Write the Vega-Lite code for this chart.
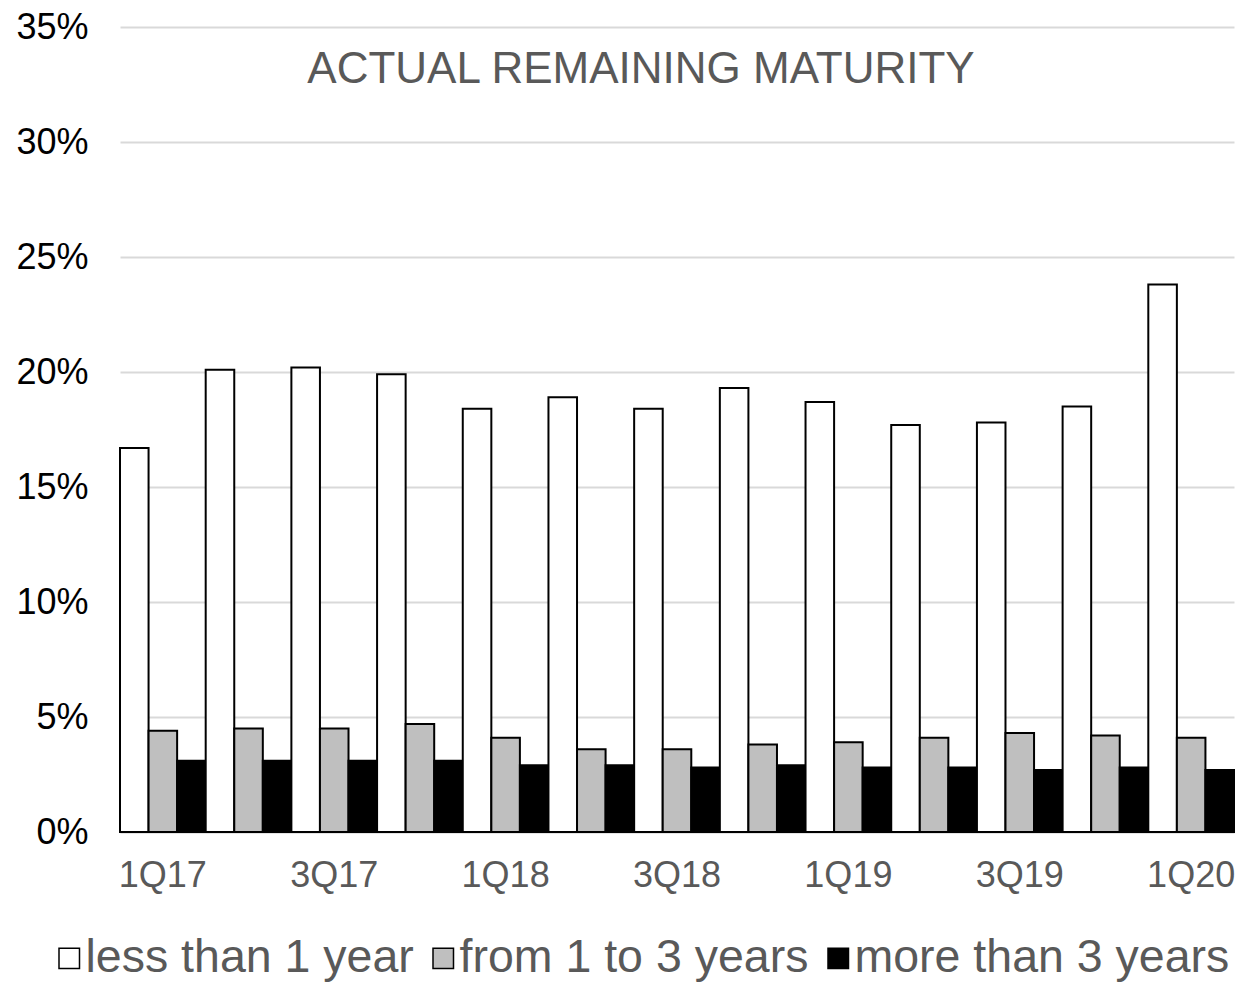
{
  "$schema": "https://vega.github.io/schema/vega-lite/v6.json",
  "autosize": "none",
  "width": 1114,
  "height": 805,
  "padding": {"left": 120, "top": 27, "right": 5, "bottom": 153},
  "background": "#FFFFFF",
  "title": {
    "text": "ACTUAL REMAINING MATURITY",
    "anchor": "middle",
    "frame": "group",
    "orient": "top",
    "baseline": "alphabetic",
    "offset": 0,
    "dx": -36,
    "dy": 118,
    "font": "Liberation Sans",
    "fontSize": 44,
    "fontWeight": "normal",
    "color": "#595959"
  },
  "data": {
    "values": [
      {"quarter": "1Q17", "maturity": "less than 1 year", "share": 16.7},
      {"quarter": "1Q17", "maturity": "from 1 to 3 years", "share": 4.4},
      {"quarter": "1Q17", "maturity": "more than 3 years", "share": 3.1},
      {"quarter": "2Q17", "maturity": "less than 1 year", "share": 20.1},
      {"quarter": "2Q17", "maturity": "from 1 to 3 years", "share": 4.5},
      {"quarter": "2Q17", "maturity": "more than 3 years", "share": 3.1},
      {"quarter": "3Q17", "maturity": "less than 1 year", "share": 20.2},
      {"quarter": "3Q17", "maturity": "from 1 to 3 years", "share": 4.5},
      {"quarter": "3Q17", "maturity": "more than 3 years", "share": 3.1},
      {"quarter": "4Q17", "maturity": "less than 1 year", "share": 19.9},
      {"quarter": "4Q17", "maturity": "from 1 to 3 years", "share": 4.7},
      {"quarter": "4Q17", "maturity": "more than 3 years", "share": 3.1},
      {"quarter": "1Q18", "maturity": "less than 1 year", "share": 18.4},
      {"quarter": "1Q18", "maturity": "from 1 to 3 years", "share": 4.1},
      {"quarter": "1Q18", "maturity": "more than 3 years", "share": 2.9},
      {"quarter": "2Q18", "maturity": "less than 1 year", "share": 18.9},
      {"quarter": "2Q18", "maturity": "from 1 to 3 years", "share": 3.6},
      {"quarter": "2Q18", "maturity": "more than 3 years", "share": 2.9},
      {"quarter": "3Q18", "maturity": "less than 1 year", "share": 18.4},
      {"quarter": "3Q18", "maturity": "from 1 to 3 years", "share": 3.6},
      {"quarter": "3Q18", "maturity": "more than 3 years", "share": 2.8},
      {"quarter": "4Q18", "maturity": "less than 1 year", "share": 19.3},
      {"quarter": "4Q18", "maturity": "from 1 to 3 years", "share": 3.8},
      {"quarter": "4Q18", "maturity": "more than 3 years", "share": 2.9},
      {"quarter": "1Q19", "maturity": "less than 1 year", "share": 18.7},
      {"quarter": "1Q19", "maturity": "from 1 to 3 years", "share": 3.9},
      {"quarter": "1Q19", "maturity": "more than 3 years", "share": 2.8},
      {"quarter": "2Q19", "maturity": "less than 1 year", "share": 17.7},
      {"quarter": "2Q19", "maturity": "from 1 to 3 years", "share": 4.1},
      {"quarter": "2Q19", "maturity": "more than 3 years", "share": 2.8},
      {"quarter": "3Q19", "maturity": "less than 1 year", "share": 17.8},
      {"quarter": "3Q19", "maturity": "from 1 to 3 years", "share": 4.3},
      {"quarter": "3Q19", "maturity": "more than 3 years", "share": 2.7},
      {"quarter": "4Q19", "maturity": "less than 1 year", "share": 18.5},
      {"quarter": "4Q19", "maturity": "from 1 to 3 years", "share": 4.2},
      {"quarter": "4Q19", "maturity": "more than 3 years", "share": 2.8},
      {"quarter": "1Q20", "maturity": "less than 1 year", "share": 23.8},
      {"quarter": "1Q20", "maturity": "from 1 to 3 years", "share": 4.1},
      {"quarter": "1Q20", "maturity": "more than 3 years", "share": 2.7}
    ]
  },
  "mark": {"type": "bar", "stroke": "#000000", "strokeWidth": 2},
  "encoding": {
    "x": {
      "field": "quarter",
      "type": "nominal",
      "sort": null,
      "scale": {"paddingInner": 0, "paddingOuter": 0},
      "axis": {
        "title": null,
        "values": ["1Q17", "3Q17", "1Q18", "3Q18", "1Q19", "3Q19", "1Q20"],
        "labelAngle": 0,
        "labelFont": "Liberation Sans",
        "labelFontSize": 36,
        "labelColor": "#595959",
        "labelBaseline": "top",
        "labelPadding": 26,
        "ticks": false,
        "domain": true,
        "domainColor": "#D9D9D9",
        "domainWidth": 2,
        "grid": false
      }
    },
    "xOffset": {
      "field": "maturity",
      "type": "nominal",
      "sort": ["less than 1 year", "from 1 to 3 years", "more than 3 years"],
      "scale": {"paddingInner": 0, "paddingOuter": 0}
    },
    "y": {
      "field": "share",
      "type": "quantitative",
      "scale": {"domain": [0, 35], "nice": false},
      "axis": {
        "title": null,
        "values": [0, 5, 10, 15, 20, 25, 30, 35],
        "labelExpr": "datum.value + '%'",
        "labelFont": "Liberation Sans",
        "labelFontSize": 36,
        "labelColor": "#000000",
        "labelPadding": 32,
        "ticks": false,
        "domain": false,
        "grid": true,
        "gridColor": "#D9D9D9",
        "gridWidth": 2
      }
    },
    "color": {
      "field": "maturity",
      "type": "nominal",
      "sort": ["less than 1 year", "from 1 to 3 years", "more than 3 years"],
      "scale": {
        "domain": ["less than 1 year", "from 1 to 3 years", "more than 3 years"],
        "range": ["#FFFFFF", "#BFBFBF", "#000000"]
      },
      "legend": {
        "title": null,
        "orient": "none",
        "direction": "horizontal",
        "legendX": -74,
        "legendY": 908,
        "symbolType": "square",
        "symbolSize": 420,
        "symbolStrokeColor": "#000000",
        "symbolStrokeWidth": 1.5,
        "symbolOpacity": 1,
        "labelFont": "Liberation Sans",
        "labelFontSize": 46.5,
        "labelColor": "#595959",
        "labelOffset": -7,
        "labelLimit": 600,
        "columnPadding": 6
      }
    }
  },
  "config": {
    "view": {"stroke": null},
    "axis": {"labelFont": "Liberation Sans"}
  }
}
